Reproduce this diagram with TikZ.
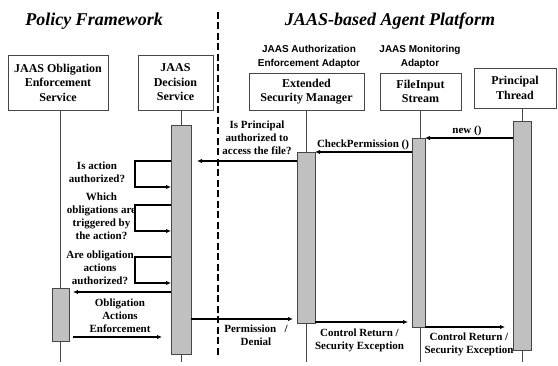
\documentclass[tikz,border=0pt]{standalone}
\usepackage{fontspec}
\setmainfont{Liberation Serif}
\newfontfamily\adaptorfont{Liberation Sans}
\usetikzlibrary{arrows.meta}
\definecolor{barfill}{RGB}{192,192,192}
\definecolor{edgegray}{RGB}{70,70,70}

\begin{document}
\begin{tikzpicture}[x=1pt,y=-1pt,
  title/.style={inner sep=0, font=\fontsize{18}{20}\selectfont\bfseries\itshape},
  objbox/.style={draw=edgegray, line width=0.9pt, fill=white, align=center,
    inner sep=0, font=\fontsize{12}{14.5}\selectfont\bfseries},
  adaptor/.style={align=center, inner sep=0,
    font=\adaptorfont\fontsize{10}{14}\selectfont\bfseries},
  actbar/.style={draw=edgegray, line width=0.9pt, fill=barfill, inner sep=0, outer sep=0},
  lifeline/.style={draw=edgegray, line width=0.8pt},
  msg/.style={draw=black, line width=1.3pt, -{Latex[length=5pt,width=4.5pt]}},
  lbl/.style={align=center, inner sep=0, font=\fontsize{11}{13}\selectfont\bfseries},
  divider/.style={line width=2.6pt, dash pattern=on 7pt off 3.5pt}
]
\useasboundingbox (0,0) rectangle (558,366);

% section titles and the divider between them
\node[title] (tpolicy) at (94,21) {Policy Framework};
\node[title] (tjaas) at (390,21) {JAAS-based Agent Platform};
\draw[divider] (218,12) -- (218,356);

% adaptor captions
\node[adaptor] (aauth) at (309,57) {JAAS Authorization\\Enforcement Adaptor};
\node[adaptor] (amon) at (420,57) {JAAS Monitoring\\Adaptor};

% participants
\node[objbox, minimum width=100pt, minimum height=55pt] (obl) at (58,82.5)
  {JAAS Obligation\\Enforcement\\Service};
\node[objbox, minimum width=75pt, minimum height=55pt] (dec) at (175.5,82.5)
  {JAAS\\Decision\\Service};
\node[objbox, minimum width=115pt, minimum height=37pt] (esm) at (306.5,91.5)
  {Extended\\Security Manager};
\node[objbox, minimum width=81pt, minimum height=37pt] (fis) at (420.5,91.5)
  {FileInput\\Stream};
\node[objbox, minimum width=82pt, minimum height=40pt] (pth) at (515,88)
  {Principal\\Thread};

% lifeline ends
\coordinate (oblend) at (60.5,362);
\coordinate (decend) at (181,362);
\coordinate (esmend) at (306,362);
\coordinate (fisend) at (420,362);
\coordinate (pthend) at (522,362);
\draw[lifeline] (obl.south -| oblend) -- (oblend);
\draw[lifeline] (dec.south -| decend) -- (decend);
\draw[lifeline] (esm.south -| esmend) -- (esmend);
\draw[lifeline] (fis.south -| fisend) -- (fisend);
\draw[lifeline] (pth.south -| pthend) -- (pthend);

% activation bars
\node[actbar, minimum width=17pt, minimum height=53pt] (oblbar) at (60.5,314.5) {};
\node[actbar, minimum width=20pt, minimum height=229pt] (decbar) at (181,239.5) {};
\node[actbar, minimum width=18pt, minimum height=171pt] (esmbar) at (306,237.5) {};
\node[actbar, minimum width=13pt, minimum height=189pt] (fisbar) at (418.5,232.5) {};
\node[actbar, minimum width=18pt, minimum height=229pt] (pthbar) at (522,235.5) {};

% arrow end points that stop short of a bar
\coordinate (decR) at ([xshift=6pt]decbar.east);
\coordinate (decL) at ([xshift=-9pt]decbar.west);
\coordinate (oblR) at ([xshift=4pt]oblbar.east);
\coordinate (esmL) at ([xshift=-4pt]esmbar.west);
\coordinate (fisL) at ([xshift=-4pt]fisbar.west);
\coordinate (pthL) at ([xshift=-8pt]pthbar.west);

% messages
\draw[msg] (pthbar.west |- 0,138) -- (fisbar.east |- 0,138);
\node[lbl] (lnew) at (467,131) {new ()};

\draw[msg] (fisbar.west |- 0,152) -- (esmbar.east |- 0,152);
\node[lbl] (lcheck) at (363,144.5) {CheckPermission ()};

\draw[msg] (esmbar.west |- 0,161) -- (decR |- 0,161);
\node[lbl] (lask) at (257,138) {Is Principal\\authorized to\\access the file?};

\draw[msg] (decbar.west |- 0,161) -- ++(-36,0) -- ++(0,26) -- (decbar.west |- 0,187);
\node[lbl] (lact) at (97,172) {Is action\\authorized?};

\draw[msg] (decbar.west |- 0,205) -- ++(-36,0) -- ++(0,26) -- (decbar.west |- 0,231);
\node[lbl] (ltrig) at (101.5,216.5) {Which\\obligations are\\triggered by\\the action?};

\draw[msg] (decbar.west |- 0,257) -- ++(-36,0) -- ++(0,26) -- (decbar.west |- 0,283);
\node[lbl] (loblauth) at (100,268) {Are obligation\\actions\\authorized?};

\draw[msg] (decbar.west |- 0,292) -- (oblR |- 0,292);
\node[lbl] (lenf) at (120,316) {Obligation\\Actions\\Enforcement};
\draw[msg] (oblR |- 0,337) -- (decL |- 0,337);

\draw[msg] (decbar.east |- 0,319) -- (esmL |- 0,319);
\node[lbl] (lperm) at (256,335) {Permission\ \ \ /\\Denial};

\draw[msg] (esmbar.east |- 0,322) -- (fisL |- 0,322);
\node[lbl] (lret1) at (359.5,340) {Control Return /\\Security Exception};

\draw[msg] (fisbar.east |- 0,327) -- (pthL |- 0,327);
\node[lbl] (lret2) at (469,344.5) {Control Return /\\Security Exception};
\end{tikzpicture}
\end{document}
